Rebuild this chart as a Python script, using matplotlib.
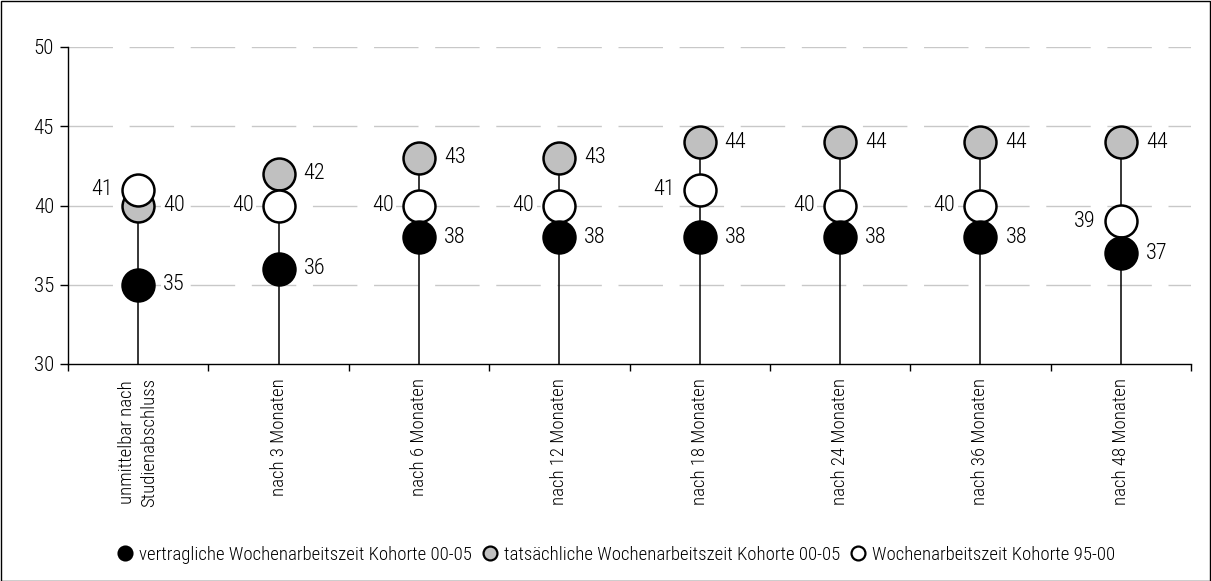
import matplotlib
matplotlib.use("Agg")
import matplotlib.pyplot as plt
from matplotlib.patches import Rectangle
from matplotlib.lines import Line2D

plt.rcParams['font.family'] = ['Roboto Condensed', 'Archivo Narrow', 'Liberation Sans', 'DejaVu Sans']
plt.rcParams['font.weight'] = 300

categories = ["unmittelbar nach\nStudienabschluss", "nach 3 Monaten", "nach 6 Monaten",
              "nach 12 Monaten", "nach 18 Monaten", "nach 24 Monaten",
              "nach 36 Monaten", "nach 48 Monaten"]
vertraglich_00_05 = [35, 36, 38, 38, 38, 38, 38, 37]
tatsaechlich_00_05 = [40, 42, 43, 43, 44, 44, 44, 44]
kohorte_95_00 = [41, 40, 40, 40, 41, 40, 40, 39]
yticks = [30, 35, 40, 45, 50]
legend_labels = ["vertragliche Wochenarbeitszeit Kohorte 00-05",
                 "tatsächliche Wochenarbeitszeit Kohorte 00-05",
                 "Wochenarbeitszeit Kohorte 95-00"]

W, H = 1211, 581
fig = plt.figure(figsize=(W / 100, H / 100), dpi=100)
fig.patches.append(Rectangle((0.5 / W, 0.5 / H), 1 - 1.5 / W, 1 - 1.5 / H, transform=fig.transFigure,
                             fill=False, edgecolor='black', linewidth=1))
ax = fig.add_axes([68 / W, 1 - 364 / H, (1191 - 68) / W, (364 - 47) / H])

n = len(categories)
x = list(range(n))
ax.set_xlim(-0.5, n - 0.5)
ax.set_ylim(30, 50)

for v in yticks[1:]:
    ax.axhline(v, color='#c8c8c8', linewidth=1, dashes=(32, 12), zorder=0)

for i in x:
    top = max(vertraglich_00_05[i], tatsaechlich_00_05[i], kohorte_95_00[i])
    ax.plot([i, i], [30, top], color='black', linewidth=1.1, zorder=1)

ms, mew = 23, 1.8
ax.plot(x, tatsaechlich_00_05, 'o', ms=ms, mfc='#c0c0c0', mec='black', mew=mew, zorder=3, clip_on=False)
ax.plot(x, kohorte_95_00, 'o', ms=ms, mfc='white', mec='black', mew=mew, zorder=4, clip_on=False)
ax.plot(x, vertraglich_00_05, 'o', ms=ms, mfc='black', mec='black', mew=mew, zorder=5, clip_on=False)

fs = 16
off = 18
for i in x:
    for vals in (vertraglich_00_05, tatsaechlich_00_05):
        ax.annotate(str(vals[i]), (i, vals[i]), xytext=(off, 0), textcoords='offset points',
                    ha='left', va='center', fontsize=fs, zorder=6,
                    bbox=dict(boxstyle='square,pad=0.1', fc='white', ec='none'))
    ax.annotate(str(kohorte_95_00[i]), (i, kohorte_95_00[i]), xytext=(-off, 0), textcoords='offset points',
                ha='right', va='center', fontsize=fs, zorder=6,
                bbox=dict(boxstyle='square,pad=0.1', fc='white', ec='none'))

ax.set_yticks(yticks)
ax.set_yticklabels([str(v) for v in yticks], fontsize=15)
ax.set_xticks(x)
ax.set_xticklabels(categories, rotation=90, fontsize=13.5, linespacing=1.25, va='top', ha='center')
ax.tick_params(axis='x', which='major', length=0, pad=10)
ax.tick_params(axis='y', length=6, width=1, direction='out', pad=4)
ax.set_xticks([i - 0.5 for i in range(n + 1)], minor=True)
ax.tick_params(axis='x', which='minor', length=5, width=1, direction='out')

for s in ('top', 'right'):
    ax.spines[s].set_visible(False)
for s in ('left', 'bottom'):
    ax.spines[s].set_color('black')
    ax.spines[s].set_linewidth(1)

handles = [Line2D([], [], marker='o', linestyle='none', ms=10, mfc=c, mec='black', mew=1.6)
           for c in ('black', '#c0c0c0', 'white')]
fig.legend(handles, legend_labels, loc='center', bbox_to_anchor=(617 / W, 1 - 555 / H), ncol=3,
           frameon=False, fontsize=13.5, handlelength=0.7, handletextpad=0.4, columnspacing=0.6,
           borderpad=0)

fig.savefig("out.png", dpi=100)
